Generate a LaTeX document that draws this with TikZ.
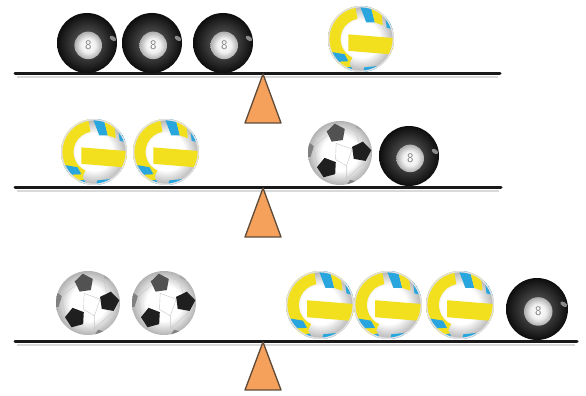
\documentclass[tikz,border=0pt]{standalone}
\usepackage{tikz}
\definecolor{fulcrum}{HTML}{F5A05B}
\definecolor{fulcrumline}{HTML}{5E4A38}
\definecolor{vyellow}{HTML}{F2E01E}
\definecolor{vblue}{HTML}{2AA6DE}
% radial shadings: the rim of the shaded circle sits at 25bp
\pgfdeclareradialshading{darkball}{\pgfpoint{0bp}{0bp}}{color(0bp)=(black!60); color(12bp)=(black!76); color(25bp)=(black!95); color(50bp)=(black!95)}
\pgfdeclareradialshading{whiteball}{\pgfpoint{0bp}{0bp}}{color(0bp)=(white); color(14bp)=(white); color(25bp)=(black!30); color(50bp)=(black!30)}
\pgfdeclareradialshading{numberdisc}{\pgfpoint{0bp}{0bp}}{color(0bp)=(white); color(13bp)=(white!94!black); color(25bp)=(black!32); color(50bp)=(black!32)}
\tikzset{
  beam/.style={line width=3pt, line cap=round, black!90},
  beamshadow/.style={line width=2pt, black!15},
  pivot/.style={fill=fulcrum, draw=fulcrumline, line width=1.3pt, line join=round},
  % billiard ball with the number 8, drawn in a unit circle
  eightball/.pic={
    \shade[shading=darkball] (0,0) circle (1);
    \shade[shading=numberdisc] (0.04,-0.08) circle (0.46);
    \node[text=black!50, font=\fontsize{13}{13}\selectfont\sffamily] at (0.04,-0.08) {8};
    \fill[white, opacity=0.5, rotate=-35] (0.62,0.62) ellipse (0.12 and 0.07);
  },
  % volleyball with yellow and blue panels, drawn in a unit circle
  volleyball/.pic={
    \shade[shading=whiteball] (0,0) circle (1);
    \begin{scope}
      \clip (0,0) circle (1);
      % left curved panel
      \fill[vyellow] (100:1) arc (100:245:1) -- (245:0.62) arc (245:100:0.62) -- cycle;
      % middle band
      \fill[vyellow] (-0.38,0.14) -- (1.1,0.02) -- (1.1,-0.48) -- (-0.38,-0.36) -- cycle;
      % upper panel stripes
      \fill[vblue] (-0.05,1.05) -- (0.28,1.05) -- (0.42,0.5) -- (0.16,0.5) -- cycle;
      \fill[vyellow] (0.28,1.05) -- (0.6,0.95) -- (0.66,0.42) -- (0.42,0.5) -- cycle;
      \fill[vblue] (0.72,0.8) -- (1.05,0.55) -- (1.05,0.28) -- (0.78,0.34) -- cycle;
      % lower panel stripes
      \fill[vblue] (-0.98,-0.38) -- (-0.5,-0.46) -- (-0.38,-0.68) -- (-0.86,-0.7) -- cycle;
      \fill[vyellow] (-0.86,-0.7) -- (-0.38,-0.68) -- (-0.3,-0.84) -- (-0.7,-0.9) -- cycle;
      \fill[vblue] (-0.7,-0.9) -- (-0.3,-0.84) -- (-0.2,-1.05) -- (-0.6,-1.05) -- cycle;
      \fill[vblue] (0.1,-0.86) -- (0.5,-0.82) -- (0.42,-1.05) -- (0.05,-1.05) -- cycle;
      \draw[black!12, line width=1.5pt] (0,0) circle (0.98);
    \end{scope}
  },
  % football with black pentagons, drawn in a unit circle
  football/.pic={
    \shade[shading=whiteball] (0,0) circle (1);
    \begin{scope}
      \clip (0,0) circle (1);
      \fill[black!68, shift={(-0.12,0.62)}, rotate=8] (90:0.3) -- (162:0.3) -- (234:0.3) -- (306:0.3) -- (18:0.3) -- cycle;
      \fill[black!88, shift={(0.66,0.04)}, rotate=-10] (90:0.32) -- (162:0.32) -- (234:0.32) -- (306:0.32) -- (18:0.32) -- cycle;
      \fill[black!88, shift={(-0.4,-0.46)}, rotate=15] (90:0.32) -- (162:0.32) -- (234:0.32) -- (306:0.32) -- (18:0.32) -- cycle;
      \fill[black!50, shift={(-1.1,0.12)}] (90:0.3) -- (162:0.3) -- (234:0.3) -- (306:0.3) -- (18:0.3) -- cycle;
      \fill[black!50, shift={(0.42,-1.12)}, rotate=20] (90:0.3) -- (162:0.3) -- (234:0.3) -- (306:0.3) -- (18:0.3) -- cycle;
      \fill[black!35, shift={(0.75,0.95)}, rotate=-20] (90:0.3) -- (162:0.3) -- (234:0.3) -- (306:0.3) -- (18:0.3) -- cycle;
      \draw[black!22, line width=0.4pt] (-0.12,0.3) -- (0.38,0.12) -- (0.2,-0.4) -- (-0.14,-0.2) -- (-0.12,0.3);
      \draw[black!22, line width=0.4pt] (-0.4,0.55) -- (-0.82,0.2) -- (-0.72,-0.35);
      \draw[black!22, line width=0.4pt] (0.2,0.8) -- (0.5,0.68) -- (0.58,0.34);
      \draw[black!22, line width=0.4pt] (0.2,-0.4) -- (0.2,-0.8) -- (0.76,-0.3);
    \end{scope}
  }
}
\begin{document}
\begin{tikzpicture}[x=1pt, y=1pt]
  \useasboundingbox (0,0) rectangle (586,396);
  \fill[white] (0,0) rectangle (586,396);

  % top balance
  \coordinate (b1l) at (15,322);
  \coordinate (b1r) at (500,322);
  \draw[beamshadow] (17,319) -- (498,319);
  \draw[beam] (b1l) -- (b1r);
  \path[pivot] (263,322) -- (281,273) -- (245,273) -- cycle;
  \pic[scale=30] at (87,353) {eightball};
  \pic[scale=30] at (152,353) {eightball};
  \pic[scale=30] at (223,353) {eightball};
  \pic[scale=33] at (361,357) {volleyball};

  % middle balance
  \coordinate (b2l) at (15,208);
  \coordinate (b2r) at (501,208);
  \draw[beamshadow] (17,205) -- (499,205);
  \draw[beam] (b2l) -- (b2r);
  \path[pivot] (263,208) -- (281,159) -- (245,159) -- cycle;
  \pic[scale=33] at (94,244) {volleyball};
  \pic[scale=33] at (166,244) {volleyball};
  \pic[scale=32] at (340,243) {football};
  \pic[scale=30] at (409,240) {eightball};

  % bottom balance
  \coordinate (b3l) at (15,54);
  \coordinate (b3r) at (577,54);
  \draw[beamshadow] (17,51) -- (575,51);
  \draw[beam] (b3l) -- (b3r);
  \path[pivot] (263,54) -- (281,6) -- (245,6) -- cycle;
  \pic[scale=32] at (88,93) {football};
  \pic[scale=32] at (164,93) {football};
  \pic[scale=34] at (320,91) {volleyball};
  \pic[scale=34] at (388,91) {volleyball};
  \pic[scale=34] at (460,91) {volleyball};
  \pic[scale=31] at (537,87) {eightball};
\end{tikzpicture}
\end{document}
